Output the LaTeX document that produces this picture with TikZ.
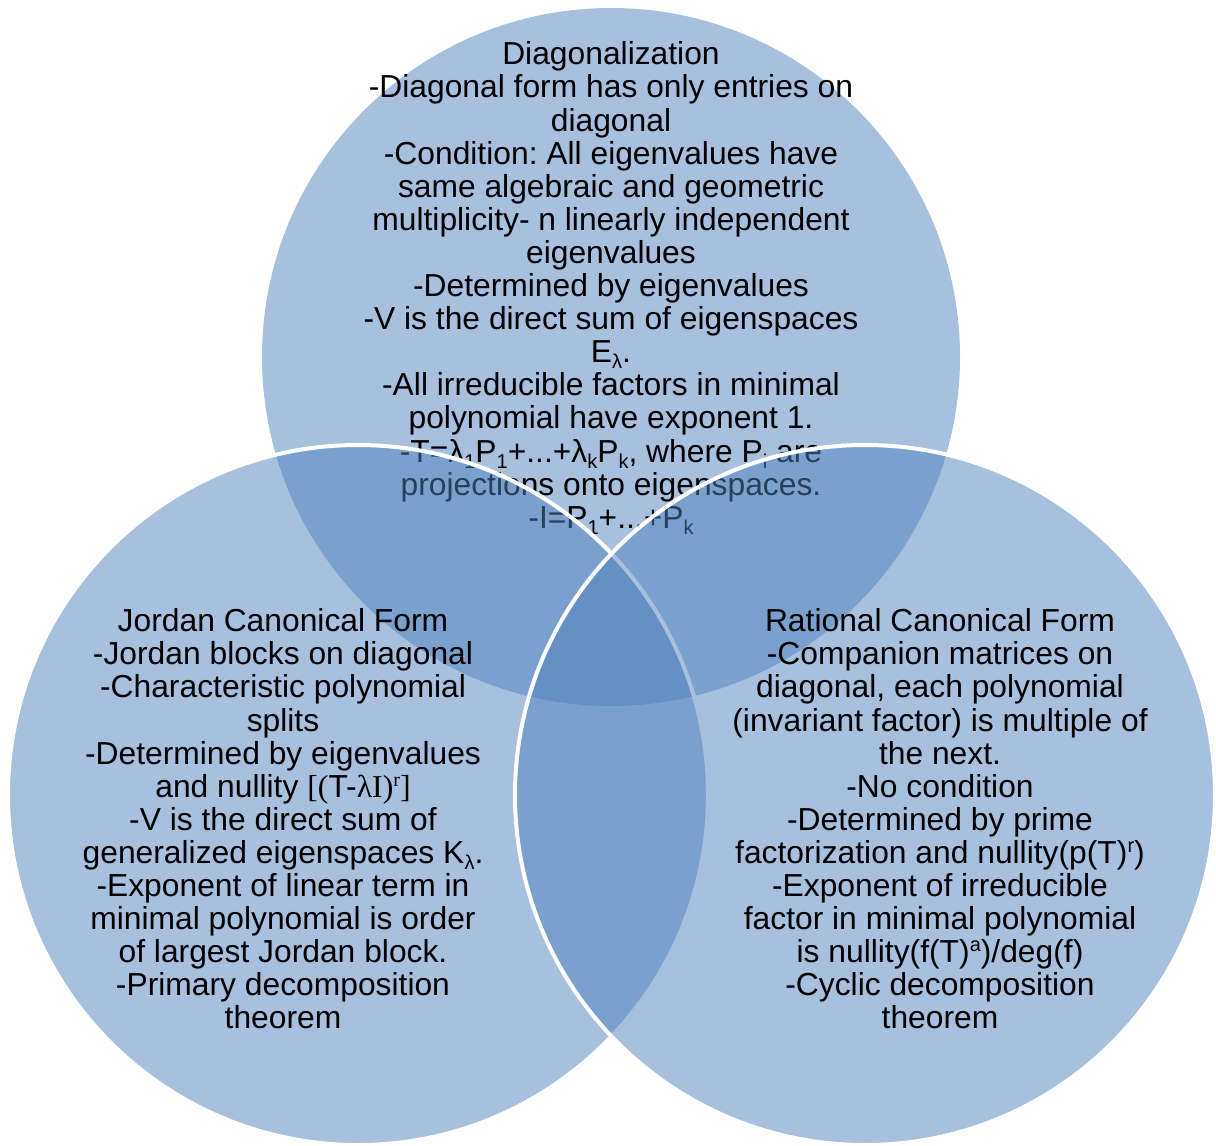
\documentclass[tikz,border=0pt]{standalone}
\usepackage{fontspec}
\setmainfont{Liberation Sans}
\newfontfamily\serifF{Liberation Serif}
\frenchspacing
\newcommand{\dn}[1]{\raisebox{-6pt}{\fontsize{20}{20}\selectfont #1}}
\newcommand{\up}[1]{\raisebox{11pt}{\fontsize{20}{20}\selectfont #1}}
\definecolor{accent}{RGB}{79,129,189}
\tikzset{
  circfill/.style={fill=accent, fill opacity=0.5},
  circline/.style={draw=white, line width=4pt},
  txt/.style={align=center, inner sep=0pt, text=black, font=\fontsize{31.8}{33.1}\selectfont\frenchspacing}
}
\begin{document}
\begin{tikzpicture}[x=1pt,y=-1pt]
\useasboundingbox (0,0) rectangle (1216,1146);
\coordinate (cT) at (611,357);
\coordinate (cL) at (358,795);
\coordinate (cR) at (865,795);
% top circle
\fill[circfill] (cT) circle[radius=349pt];
\node[txt] (ttop) at (611,288) {Diagonalization\\
-Diagonal form has only entries on\\
diagonal\\
-Condition: All eigenvalues have\\
same algebraic and geometric\\
multiplicity- n linearly independent\\
eigenvalues\\
-Determined by eigenvalues\\
-V is the direct sum of eigenspaces\\
E\dn{λ}.\\
-All irreducible factors in minimal\\
polynomial have exponent 1.\\
-T=λ\dn{1}P\dn{1}+...+λ\dn{k}P\dn{k}, where P\dn{i} are\\
projections onto eigenspaces.\\
-I=P\dn{1}+...+P\dn{k}};
% left circle
\fill[circfill] (cL) circle[radius=350pt];
\draw[circline] (cL) circle[radius=350pt];
% right circle
\fill[circfill] (cR) circle[radius=350pt];
\draw[circline] (cR) circle[radius=350pt];
\node[txt] (tleft) at (283,819) {Jordan Canonical Form\\
-Jordan blocks on diagonal\\
-Characteristic polynomial\\
splits\\
-Determined by eigenvalues\\
and nullity {\serifF[(}T-{\serifF λI)\up{r}]}\\
-V is the direct sum of\\
generalized eigenspaces K\dn{λ}.\\
-Exponent of linear term in\\
minimal polynomial is order\\
of largest Jordan block.\\
-Primary decomposition\\
theorem};
\node[txt] (tright) at (940,819) {Rational Canonical Form\\
-Companion matrices on\\
diagonal, each polynomial\\
(invariant factor) is multiple of\\
the next.\\
-No condition\\
-Determined by prime\\
factorization and nullity(p(T)\up{r})\\
-Exponent of irreducible\\
factor in minimal polynomial\\
is nullity(f(T)\up{a})/deg(f)\\
-Cyclic decomposition\\
theorem};
\end{tikzpicture}
\end{document}
